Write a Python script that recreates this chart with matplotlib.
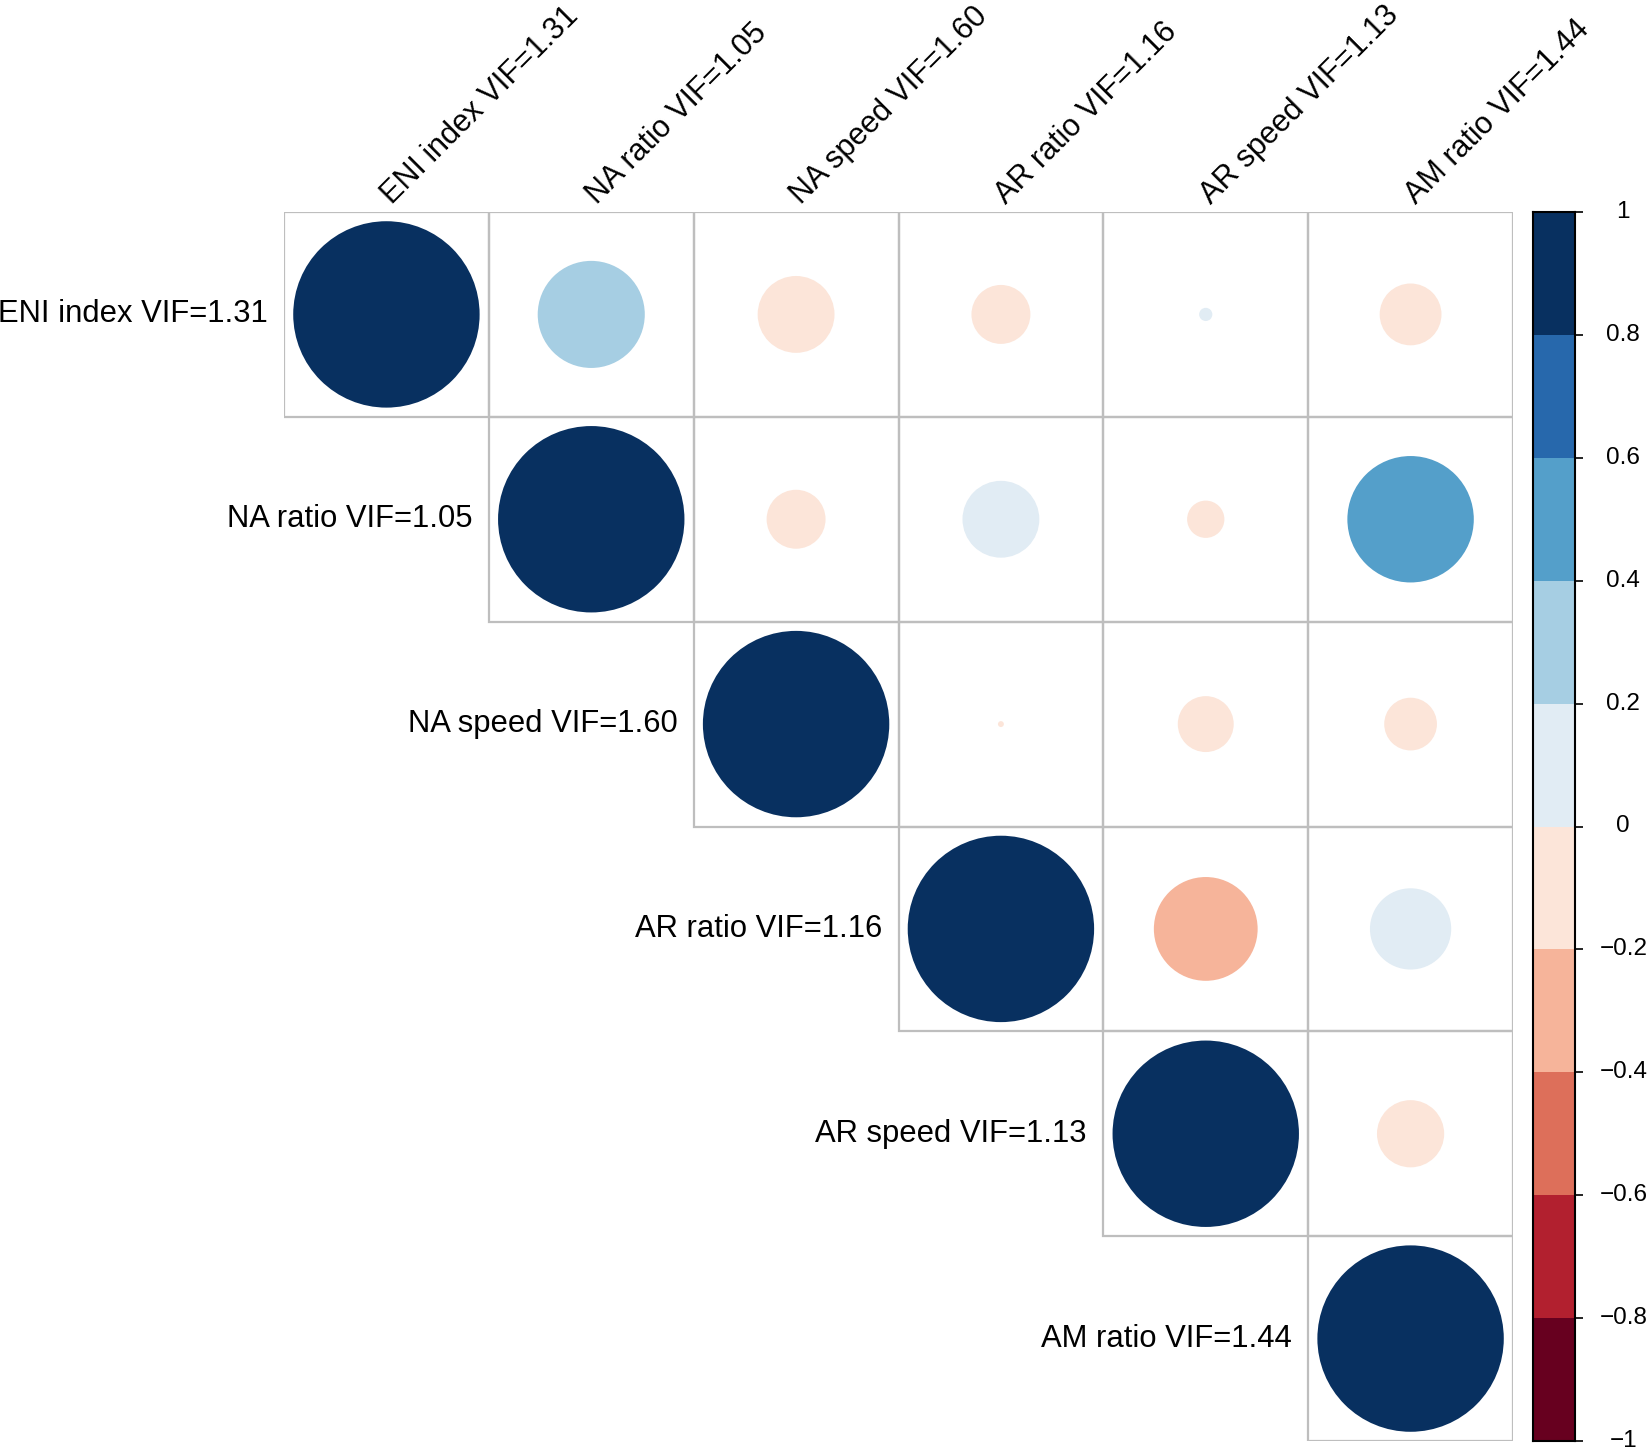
import matplotlib
matplotlib.use("Agg")
import matplotlib.pyplot as plt
from matplotlib.patches import Circle, Rectangle
import numpy as np

plt.rcParams['font.family'] = ['Liberation Sans', 'DejaVu Sans']

labels = ['ENI index VIF=1.31', 'NA ratio VIF=1.05', 'NA speed VIF=1.60',
          'AR ratio VIF=1.16', 'AR speed VIF=1.13', 'AM ratio VIF=1.44']

corr = np.array([
    [1.00,  0.33, -0.17, -0.10,  0.005, -0.11],
    [0.33,  1.00, -0.10,  0.17, -0.04,  0.46],
    [-0.17, -0.10, 1.00, -0.001, -0.09, -0.08],
    [-0.10,  0.17, -0.001, 1.00, -0.31,  0.19],
    [0.005, -0.04, -0.09, -0.31, 1.00, -0.13],
    [-0.11,  0.46, -0.08,  0.19, -0.13, 1.00],
])

# discrete palette from -1 to 1 in steps of 0.2
bin_edges = np.linspace(-1, 1, 11)
bin_colors = ['#67001F', '#B2202F', '#DD6F5A', '#F6B49A', '#FCE5D9',
              '#E1ECF4', '#A6CEE3', '#549FCA', '#2768AC', '#083060']
cbar_ticks = np.round(np.linspace(-1, 1, 11), 1)

def pick_color(v):
    k = int(np.clip(np.searchsorted(bin_edges, v, side='right') - 1, 0, 9))
    return bin_colors[k]

W, H = 1650, 1450
fig = plt.figure(figsize=(W / 100, H / 100), dpi=100)

n = len(labels)
ax = fig.add_axes([284 / W, 1 - 1441 / H, 1229 / W, 1229 / H])
ax.set_xlim(0, n)
ax.set_ylim(n, 0)
ax.set_aspect('equal')
ax.axis('off')

for i in range(n):
    for j in range(i, n):
        ax.add_patch(Rectangle((j, i), 1, 1, fill=False, edgecolor='#BEBEBE',
                               linewidth=1.6, zorder=1))
        r = corr[i, j]
        rad = 0.455 * np.sqrt(abs(r))
        ax.add_patch(Circle((j + 0.5, i + 0.5), rad, facecolor=pick_color(r),
                            edgecolor='none', zorder=2))

for i, lab in enumerate(labels):
    ax.text(i - 0.08, i + 0.5, lab, ha='right', va='center', fontsize=22.3)
    ax.text(i + 0.55, -0.01, lab, ha='left', va='bottom', rotation=45,
            rotation_mode='anchor', fontsize=22)

# colour bar
cax = fig.add_axes([1533 / W, 1 - 1441 / H, 42 / W, 1229 / H])
for k in range(10):
    cax.bar(0.5, 0.2, bottom=bin_edges[k], width=1, color=bin_colors[k],
            linewidth=0)
cax.set_xlim(0, 1)
cax.set_ylim(-1, 1)
cax.set_xticks([])
cax.yaxis.tick_right()
cax.set_yticks(cbar_ticks)
cax.set_yticklabels([])
cax.tick_params(axis='y', length=6, width=1.2, color='black')
for s in cax.spines.values():
    s.set_linewidth(1.5)
    s.set_color('black')
for t in cbar_ticks:
    txt = ('%g' % t).replace('-', '\u2212')
    cax.text(2.15, t, txt, ha='center', va='center', fontsize=17.5,
             clip_on=False)

fig.savefig('out.png', dpi=100)
